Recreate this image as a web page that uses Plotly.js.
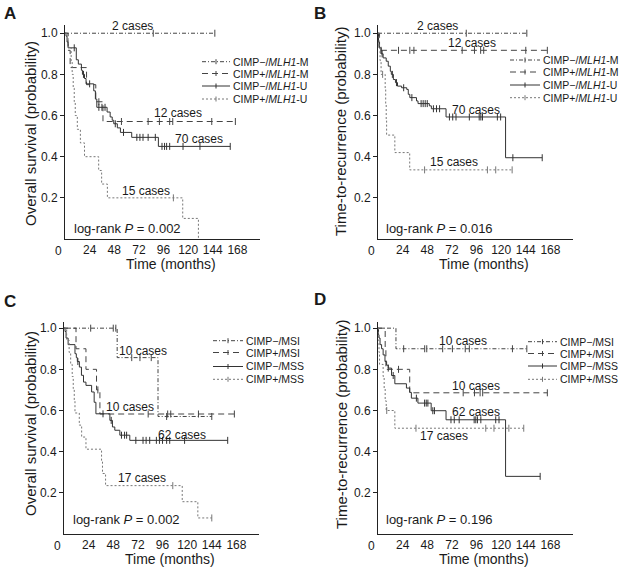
<!DOCTYPE html>
<html>
<head>
<meta charset="utf-8">
<script src="https://cdn.plot.ly/plotly-3.0.1.min.js"></script>
<style>
html, body { margin: 0; padding: 0; background: #fff; }
#chart { width: 621px; height: 568px; }
</style>
</head>
<body>
<div id="chart"></div>
<script>
var W = 621, H = 568;
function px(x) { return x / W; }
function py(y) { return 1 - y / H; }

// group labels
var labelsMLH1 = ['CIMP\u2212/<i>MLH1</i>-M', 'CIMP+/<i>MLH1</i>-M', 'CIMP\u2212/<i>MLH1</i>-U', 'CIMP+/<i>MLH1</i>-U'];
var labelsMSI = ['CIMP\u2212/MSI', 'CIMP+/MSI', 'CIMP\u2212/MSS', 'CIMP+/MSS'];
var xTicks = [24, 48, 72, 96, 120, 144, 168];
var yTicks = [0.2, 0.4, 0.6, 0.8, 1.0];

// ---- Panel A: overall survival by CIMP / MLH1 ----
var aNegM_t = [], aNegM_s = [], aNegM_c = [86, 146];
var aPosM_t = [3, 5, 21, 30, 37];
var aPosM_s = [0.917, 0.833, 0.75, 0.667, 0.571];
var aPosM_c = [33, 55, 81, 92, 102, 105, 143, 166];
var aNegU_t = [1, 2, 3, 11, 13, 16, 17, 19, 20.5, 28, 29.6, 31, 41, 44, 46, 47.5, 51, 54, 65, 91];
var aNegU_s = [0.986, 0.957, 0.929, 0.871, 0.85, 0.82, 0.80, 0.78, 0.754, 0.72, 0.68, 0.64, 0.617, 0.593, 0.577, 0.56, 0.54, 0.518, 0.494, 0.45];
var aNegU_c = [9, 18, 24, 33, 36, 39, 49, 57, 70, 73, 76, 81, 88, 94.5, 97, 99, 102, 115, 131.5, 161];
var aPosU_t = [3, 6, 7, 8, 9, 10, 12, 15, 19, 32.8, 35.7, 41.3, 114.7, 130];
var aPosU_s = [0.933, 0.867, 0.8, 0.733, 0.667, 0.6, 0.533, 0.467, 0.4, 0.333, 0.267, 0.2, 0.1, 0];
var aPosU_c = [105.6];

// ---- Panel B: time-to-recurrence by CIMP / MLH1 ----
var bNegM_t = [], bNegM_s = [], bNegM_c = [86, 145];
var bPosM_t = [1.5], bPosM_s = [0.917];
var bPosM_c = [3, 20, 31, 35, 82, 94, 100, 103, 144, 165];
var bNegU_t = [0.5, 1, 3, 5, 8, 10, 12, 13, 15, 17, 19, 23, 28, 29.5, 31, 37.5, 39, 50, 52, 66.3, 124.3];
var bNegU_s = [0.957, 0.929, 0.90, 0.88, 0.864, 0.84, 0.815, 0.80, 0.775, 0.76, 0.743, 0.735, 0.727, 0.703, 0.687, 0.671, 0.658, 0.647, 0.633, 0.593, 0.395];
var bNegU_c = [4, 14, 18, 25, 33, 42, 44, 46, 48, 54, 57, 60, 69.6, 72.8, 76, 89, 98.6, 100.2, 101.8, 116.3, 119.5, 131.4, 160];
var bPosU_t = [1, 2, 3, 7, 7.5, 8, 8.4, 16.4, 30.9];
var bPosU_s = [0.933, 0.867, 0.8, 0.727, 0.655, 0.582, 0.505, 0.42, 0.336];
var bPosU_c = [4.5, 45.4, 106.6, 114.7, 130.7];

// ---- Panel C: overall survival by CIMP / MSI ----
var cNegI_t = [51.8, 91.6], cNegI_s = [0.857, 0.571];
var cNegI_c = [26, 48, 50.5, 66, 74, 85, 100, 144];
var cPosI_t = [11.7, 21.4, 31.7, 35], cPosI_s = [0.9, 0.8, 0.7, 0.583];
var cPosI_c = [33, 82, 101, 104, 131, 166];
var cNegS_t = [1, 2, 4, 10.7, 12, 13, 15, 17, 19, 21.4, 26.9, 29.4, 31.1, 44.7, 47.2, 49.5, 54.4, 64.1];
var cNegS_s = [0.984, 0.952, 0.92, 0.876, 0.857, 0.838, 0.811, 0.771, 0.738, 0.722, 0.69, 0.64, 0.584, 0.552, 0.52, 0.504, 0.48, 0.455];
var cNegS_c = [13.5, 38, 46, 56, 59, 61, 70, 77, 80, 83.5, 90, 93, 96, 100, 103, 117.5, 159.5];
var cPosS_t = [2.6, 5, 6.5, 8, 9, 10, 10.7, 14.9, 17.2, 21.4, 36.6, 37.5, 40.5, 115.2, 130.4];
var cPosS_s = [0.941, 0.882, 0.824, 0.765, 0.706, 0.647, 0.588, 0.529, 0.471, 0.412, 0.353, 0.294, 0.235, 0.157, 0.078];
var cPosS_c = [106, 144];

// ---- Panel D: time-to-recurrence by CIMP / MSI ----
var dNegI_t = [17.5], dNegI_s = [0.9];
var dNegI_c = [25, 45.5, 47.5, 63, 72.5, 85, 89, 131, 145];
var dPosI_t = [7, 7.7, 30.9], dPosI_s = [0.9, 0.8, 0.686];
var dPosI_c = [20, 83, 94, 99.5, 102, 165];
var dNegS_t = [0.5, 1, 2, 3.5, 5, 6.8, 8.4, 10, 13.2, 16.4, 27.7, 30.9, 32.5, 38.9, 51.8, 66.3, 124.3];
var dNegS_s = [0.968, 0.952, 0.92, 0.9, 0.87, 0.838, 0.82, 0.806, 0.77, 0.73, 0.709, 0.688, 0.66, 0.636, 0.599, 0.555, 0.28];
var dNegS_c = [10, 14.8, 37.4, 45.4, 47, 48.6, 53.4, 55, 71.1, 74.3, 79.1, 93.7, 95.3, 96.9, 100.2, 114.7, 117.9, 158];
var dPosS_t = [0.5, 1, 1.5, 5, 6, 7, 8, 16.4];
var dPosS_s = [0.941, 0.882, 0.824, 0.765, 0.706, 0.647, 0.6, 0.514];
var dPosS_c = [8.5, 37, 105, 113, 127.5, 142];

// line style per group (same order as labels)
var styles = [
  { dash: '4px,2px,1px,2px', color: '#444' },
  { dash: '6px,4px', color: '#444' },
  { dash: 'solid', color: '#333' },
  { dash: '2px,2px', color: '#777' }
];

function stepAt(times, surv, t) {
  var v = 1;
  for (var i = 0; i < times.length; i++) if (times[i] <= t) v = surv[i];
  return v;
}

var traces = [];
function addKM(times, surv, cens, st, n) {
  var last = times.length ? times[times.length - 1] : 0;
  var end = Math.max(last, cens.length ? cens[cens.length - 1] : 0);
  var x = [0].concat(times), y = [1].concat(surv);
  if (end > last) { x.push(end); y.push(y[y.length - 1]); }
  var xa = 'x' + (n === 1 ? '' : n), ya = 'y' + (n === 1 ? '' : n);
  traces.push({
    x: x, y: y, xaxis: xa, yaxis: ya, mode: 'lines', showlegend: false, hoverinfo: 'skip',
    line: { shape: 'hv', width: 1, dash: st.dash, color: st.color }
  });
  traces.push({
    x: cens, y: cens.map(function (t) { return stepAt(times, surv, t); }),
    xaxis: xa, yaxis: ya, mode: 'markers', showlegend: false, hoverinfo: 'skip', cliponaxis: false,
    marker: { symbol: 'line-ns-open', size: 5, color: st.color, line: { width: 1, color: st.color } }
  });
}

addKM(aNegM_t, aNegM_s, aNegM_c, styles[0], 1);
addKM(aPosM_t, aPosM_s, aPosM_c, styles[1], 1);
addKM(aNegU_t, aNegU_s, aNegU_c, styles[2], 1);
addKM(aPosU_t, aPosU_s, aPosU_c, styles[3], 1);

addKM(bNegM_t, bNegM_s, bNegM_c, styles[0], 2);
addKM(bPosM_t, bPosM_s, bPosM_c, styles[1], 2);
addKM(bNegU_t, bNegU_s, bNegU_c, styles[2], 2);
addKM(bPosU_t, bPosU_s, bPosU_c, styles[3], 2);

addKM(cNegI_t, cNegI_s, cNegI_c, styles[0], 3);
addKM(cPosI_t, cPosI_s, cPosI_c, styles[1], 3);
addKM(cNegS_t, cNegS_s, cNegS_c, styles[2], 3);
addKM(cPosS_t, cPosS_s, cPosS_c, styles[3], 3);

addKM(dNegI_t, dNegI_s, dNegI_c, styles[0], 4);
addKM(dPosI_t, dPosI_s, dPosI_c, styles[1], 4);
addKM(dNegS_t, dNegS_s, dNegS_c, styles[2], 4);
addKM(dPosS_t, dPosS_s, dPosS_c, styles[3], 4);

var font = 'Arial, "Liberation Sans", sans-serif';
var ink = '#1a1a1a';

// panel boxes in pixels: left, right, top, bottom
var panels = [
  { l: 65, r: 260, t: 25, b: 239, ymax: 1.04 },
  { l: 378, r: 573, t: 25, b: 239, ymax: 1.04 },
  { l: 64, r: 259, t: 322, b: 534, ymax: 1.03 },
  { l: 378, r: 573, t: 322, b: 534, ymax: 1.03 }
];

var layout = {
  width: W, height: H,
  margin: { l: 0, r: 0, t: 0, b: 0 },
  paper_bgcolor: '#fff', plot_bgcolor: '#fff',
  font: { family: font, color: ink },
  showlegend: false,
  annotations: [], shapes: []
};

function note(x, y, text, size, extra) {
  var a = { xref: 'paper', yref: 'paper', x: px(x), y: py(y), text: text, showarrow: false,
    xanchor: 'center', yanchor: 'middle', font: { size: size } };
  for (var key in extra) a[key] = extra[key];
  layout.annotations.push(a);
}

panels.forEach(function (p, i) {
  var k = i === 0 ? '' : String(i + 1);
  layout['xaxis' + k] = {
    domain: [px(p.l), px(p.r)], anchor: 'y' + k, range: [0, 190],
    tickvals: xTicks, ticks: '', showline: true, linecolor: '#222', linewidth: 1,
    showgrid: false, zeroline: false, tickfont: { size: 12, color: ink }
  };
  layout['yaxis' + k] = {
    domain: [py(p.b), py(p.t)], anchor: 'x' + k, range: [0, p.ymax],
    tickvals: yTicks, tickformat: '.1f', ticks: 'outside', ticklen: 4, tickcolor: '#222',
    showline: true, linecolor: '#222', linewidth: 1,
    showgrid: false, zeroline: false, tickfont: { size: 12, color: ink }
  };
  // "0" label sits left of the axis origin
  note(p.l - 7, p.b + 12, '0', 12);
  note((p.l + p.r) / 2 + 8, p.b + 25, 'Time (months)', 14);
});

// panel letters
note(10, 13, '<b>A</b>', 17);
note(320, 13, '<b>B</b>', 17);
note(10, 301, '<b>C</b>', 17);
note(320, 299, '<b>D</b>', 17);

// y titles
note(30, 134, 'Overall survival (probability)', 15, { textangle: -90 });
note(341, 131, 'Time-to-recurrence (probability)', 15, { textangle: -90 });
note(30, 424, 'Overall survival (probability)', 15, { textangle: -90 });
note(341, 424, 'Time-to-recurrence (probability)', 15, { textangle: -90 });

// log-rank
note(72, 228, 'log-rank <i>P</i> = 0.002', 13, { xanchor: 'left' });
note(384, 228, 'log-rank <i>P</i> = 0.016', 13, { xanchor: 'left' });
note(71, 519, 'log-rank <i>P</i> = 0.002', 13, { xanchor: 'left' });
note(384, 519, 'log-rank <i>P</i> = 0.196', 13, { xanchor: 'left' });

// case counts
function cases(n, t, s, text) {
  var k = n === 1 ? '' : String(n);
  layout.annotations.push({ xref: 'x' + k, yref: 'y' + k, x: t, y: s, text: text,
    xanchor: 'center', yanchor: 'middle', showarrow: false, font: { size: 12 } });
}
cases(1, 66, 1.035, '2 cases');
cases(1, 110, 0.61, '12 cases');
cases(1, 130.6, 0.484, '70 cases');
cases(1, 79, 0.234, '15 cases');
cases(2, 58, 1.035, '2 cases');
cases(2, 92, 0.953, '12 cases');
cases(2, 95.3, 0.629, '70 cases');
cases(2, 74.4, 0.372, '15 cases');
cases(3, 77, 0.888, '10 cases');
cases(3, 64.7, 0.618, '10 cases');
cases(3, 115, 0.481, '62 cases');
cases(3, 76.4, 0.271, '17 cases');
cases(4, 82.4, 0.938, '10 cases');
cases(4, 95.3, 0.72, '10 cases');
cases(4, 95.3, 0.593, '62 cases');
cases(4, 64.7, 0.478, '17 cases');

// legends drawn with shapes + text
function legend(x0, x1, rows, labels) {
  labels.forEach(function (lab, i) {
    var st = styles[i], y = rows[i], mid = (x0 + x1) / 2;
    layout.shapes.push({ type: 'line', xref: 'paper', yref: 'paper',
      x0: px(x0), x1: px(x1), y0: py(y), y1: py(y),
      line: { color: st.color, width: 1, dash: st.dash } });
    layout.shapes.push({ type: 'line', xref: 'paper', yref: 'paper',
      x0: px(mid), x1: px(mid), y0: py(y - 2.5), y1: py(y + 2.5),
      line: { color: st.color, width: 1 } });
    note(x1 + 1, y, lab, 10.5, { xanchor: 'left' });
  });
}
legend(202, 230, [61.7, 73.5, 86, 99], labelsMLH1);
legend(510, 540, [60, 72, 85, 97.7], labelsMLH1);
legend(213, 243, [340.7, 352.5, 366.5, 379.3], labelsMSI);
legend(528, 557, [341.7, 353.5, 366, 379.3], labelsMSI);

Plotly.newPlot('chart', traces, layout, { staticPlot: true, displayModeBar: false });
</script>
</body>
</html>
